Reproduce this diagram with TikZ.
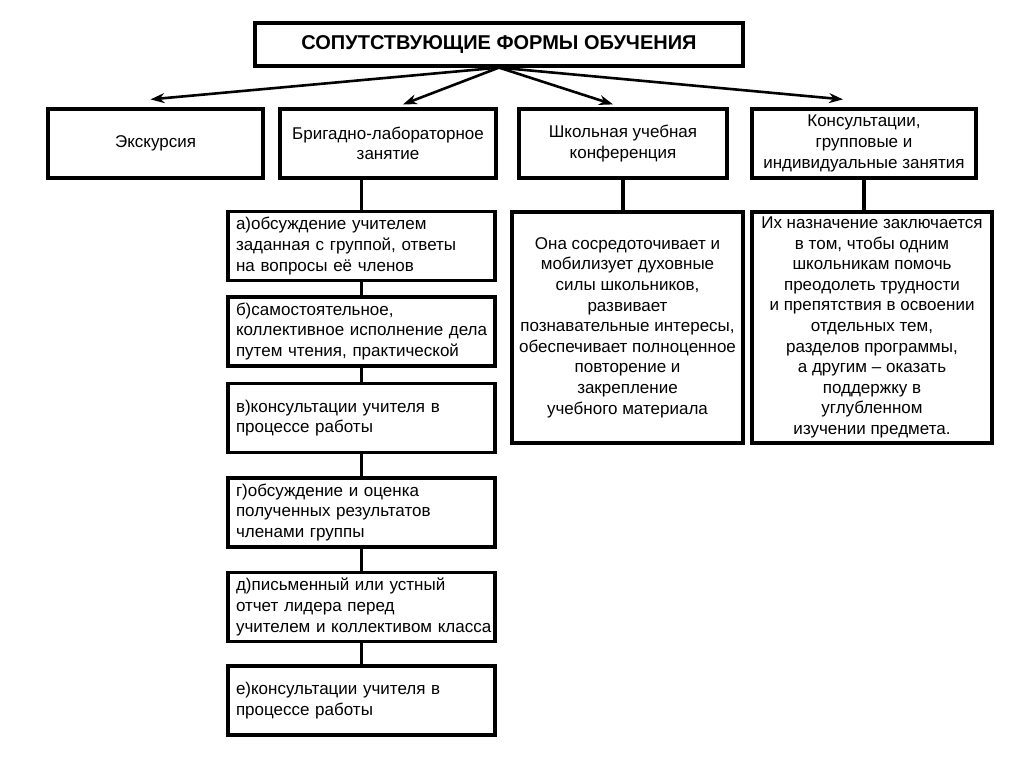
\documentclass[tikz,border=0pt]{standalone}
\usepackage{fontspec}
\setmainfont{Liberation Sans}
\usetikzlibrary{arrows.meta}
\tikzset{
  every picture/.style={font=\fontsize{17}{20.6}\selectfont, line width=3.2pt},
  box/.style={draw, align=center, inner sep=3pt, minimum height=69pt},
  itembox/.style={draw, align=left, text width=265pt, inner xsep=1pt, inner ysep=2pt, minimum height=69pt,
    execute at begin node={\leftskip=7pt}},
  arrow/.style={-{Stealth[length=14pt, width=10pt]}, line width=2.6pt},
  title/.style={font=\fontsize{20}{22}\selectfont\bfseries},
}
\begin{document}
\begin{tikzpicture}[x=1pt, y=-1pt]
  \useasboundingbox (0,0) rectangle (1024,767);
  % top level
  \node[box, title, minimum width=488pt, minimum height=43pt] (forms) at (499,44.5) {СОПУТСТВУЮЩИЕ ФОРМЫ ОБУЧЕНИЯ};
  \node[box, minimum width=215pt] (excursion) at (155.5,143.5) {Экскурсия};
  \node[box, minimum width=216pt] (brigade) at (388,143.5) {Бригадно-лабораторное\\занятие};
  \node[box, minimum width=208pt] (conference) at (623,143.5) {Школьная учебная\\конференция};
  \node[box, minimum width=224pt] (consult) at (864,143.5) {Консультации,\\групповые и\\индивидуальные занятия};
  \draw[arrow] (forms.south) -- ([xshift=-5pt, yshift=8pt]excursion.north);
  \draw[arrow] (forms.south) -- ([xshift=15pt, yshift=3pt]brigade.north);
  \draw[arrow] (forms.south) -- ([xshift=-10pt, yshift=3pt]conference.north);
  \draw[arrow] (forms.south) -- ([xshift=-21pt, yshift=8pt]consult.north);
  % descriptions
  \node[box, minimum width=231pt, minimum height=231pt] (confText) at (627.5,327.5)
    {Она сосредоточивает и\\мобилизует духовные\\силы школьников,\\развивает\\познавательные интересы,\\обеспечивает полноценное\\повторение и\\закрепление\\учебного материала};
  \node[box, minimum width=240pt, minimum height=231pt] (consultText) at (872,327.5)
    {Их назначение заключается\\в том, чтобы одним\\школьникам помочь\\преодолеть трудности\\и препятствия в освоении\\отдельных тем,\\разделов программы,\\а другим – оказать\\поддержку в\\углубленном\\изучении предмета.};
  \draw (conference.south) -- (conference.south |- confText.north);
  \draw (consult.south) -- (consult.south |- consultText.north);
  % steps of the brigade lesson
  \foreach \nm/\y/\txt in {
      stepA/246/{а)обсуждение учителем\\заданная с группой, ответы\\на вопросы её членов},
      stepB/331.5/{б)самостоятельное,\\коллективное исполнение дела\\путем чтения, практической},
      stepC/418/{в)консультации учителя в\\процессе работы},
      stepD/512.5/{г)обсуждение и оценка\\полученных результатов\\членами группы},
      stepE/607/{д)письменный или устный\\отчет лидера перед\\учителем и коллективом класса},
      stepF/700.5/{е)консультации учителя в\\процессе работы}}
    \node[itembox] (\nm) at (361.5,\y) {\txt};
  \draw (stepA.north) -- (stepA.north |- brigade.south);
  \foreach \u/\w in {stepA/stepB, stepB/stepC, stepC/stepD, stepD/stepE, stepE/stepF}
    \draw (\u) -- (\w);
\end{tikzpicture}
\end{document}
